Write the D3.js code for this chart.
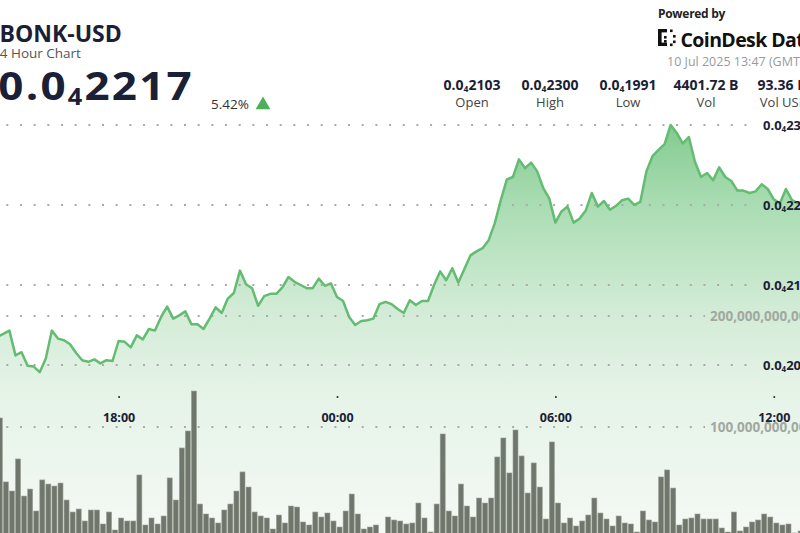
<!DOCTYPE html>
<html><head><meta charset="utf-8">
<script src="https://cdn.jsdelivr.net/npm/d3@7"></script>
<style>
body{margin:0;background:#fff;}
svg{display:block;font-family:"Open Sans",sans-serif;}
</style></head><body>
<svg id="c" width="800" height="533"></svg>
<script>
// ---------- data ----------
const symbol = "BONK-USD";
const subtitle = "24 Hour Chart";
const lastPrice = 0.00002217;
const changePct = "5.42%";
const statLabels = ["Open", "High", "Low", "Vol", "Vol USD"];
const statValues = [0.00002103, 0.00002300, 0.00001991, "4401.72 B", "93.36 M"];
const timestampText = "10 Jul 2025 13:47 (GMT)";
const poweredBy = "Powered by";
const brandName = "CoinDesk Data";

// 10-minute points, first one at 14:40 UTC on 9 Jul 2025
const startTimeUTC = Date.UTC(2025, 6, 9, 14, 40);
const stepMinutes = 10;
// close price in units of 1e-8 USD
const pricesE8 = [
2035,2039,2043,2012,2016,1999,1998,1991,2008,2043,2033,2031,2026,2015,2006,2004,2007,2002,2006,2005,
2030,2029,2022,2037,2032,2045,2043,2060,2073,2058,2062,2067,2051,2051,2045,2058,2072,2065,2083,2090,
2118,2101,2096,2074,2086,2089,2089,2097,2110,2104,2100,2096,2096,2108,2099,2102,2085,2080,2060,2050,
2055,2056,2058,2076,2079,2076,2070,2065,2081,2075,2080,2080,2100,2117,2106,2121,2103,2120,2137,2142,
2146,2156,2177,2206,2232,2235,2257,2246,2253,2242,2221,2208,2178,2192,2198,2178,2183,2193,2215,2198,
2205,2194,2199,2206,2208,2200,2204,2242,2261,2269,2276,2300,2290,2277,2285,2254,2235,2240,2231,2247,
2235,2230,2218,2218,2215,2217,2226,2220,2207,2202,2220,2206,2202,2199];
// volume in billions of BONK
const volumesB = [
60,108.1,50.5,42.3,71.2,37.8,44.1,24.3,52.3,48.6,46.8,49.5,34.2,23.4,26.1,15.3,25.2,25.2,12.6,23.4,
7.2,18.0,15.3,15.3,56.8,11.7,18.0,12.6,19.8,54.1,34.2,81.1,96.4,132.4,30.6,21.6,18.0,13.5,25.2,30.6,
42.3,59.5,45.9,23.4,19.8,18.0,8.1,20.7,13.5,28.8,27.9,14.4,11.7,23.4,18.9,22.5,15.3,9.9,24.3,39.6,
21.6,8.1,9.9,11.7,1.8,18.9,16.2,15.3,12.6,13.5,31.5,18.0,5.4,30.6,93.7,24.3,19.8,48.6,28.8,18.9,
36.0,31.5,36.0,73.0,90.1,58.6,97.3,73.9,40.5,67.6,45.9,17.1,86.5,31.5,13.5,18.0,10.8,15.3,20.7,36.0,
22.5,17.1,10.8,19.8,13.5,12.6,5.4,24.3,16.2,14.4,55.0,61.3,45.0,11.7,17.1,18.0,21.6,17.1,17.1,17.1,
9.0,5.4,23.4,6.3,9.9,14.4,16.2,21.6,18.9,13.5,11.7,12.6,4.5,6.3];

const priceTicks = [0.000020, 0.000021, 0.000022, 0.000023];
const volumeTicks = [100e9, 200e9];
const timeTicks = [Date.UTC(2025,6,9,18), Date.UTC(2025,6,10,0), Date.UTC(2025,6,10,6), Date.UTC(2025,6,10,12)];

// ---------- build ----------
const points = pricesE8.map((p, i) => ({
  t: new Date(startTimeUTC + i * stepMinutes * 60000),
  p: p * 1e-8,
  v: volumesB[i] * 1e9
}));

const svg = d3.select("#c");
const x = d3.scaleUtc()
  .domain([new Date(Date.UTC(2025,6,9,18)), new Date(Date.UTC(2025,6,10,12))])
  .range([118.6, 773.8]);
const yP = d3.scaleLinear().domain([0.000020, 0.000023]).range([365, 125]);
const yV = d3.scaleLinear().domain([0, 200e9]).range([538, 316]);

const dark = "#1a2035";

function subParts(p) {
  const dec = p.toFixed(8).split(".")[1];
  let z = 0; while (dec[z] === "0") z++;
  return { lead: "0.0", n: String(z), digits: dec.slice(z) };
}
function writeSub(sel, p, prefix, subSize, shift) {
  const s = subParts(p);
  sel.text(null);
  sel.append("tspan").text(prefix + s.lead);
  sel.append("tspan").attr("font-size", subSize).attr("dy", shift).text(s.n);
  sel.append("tspan").attr("dy", -shift).text(s.digits);
}

// gradient
const defs = svg.append("defs");
const grad = defs.append("linearGradient").attr("id", "ag")
  .attr("gradientUnits", "userSpaceOnUse")
  .attr("x1", 0).attr("y1", 120).attr("x2", 0).attr("y2", 533);
[[0, "#80ca8e"], [0.2, "#a9dcb2"], [0.45, "#d1ebd5"], [0.65, "#e5f3e7"], [1, "#f4f9f4"]]
  .forEach(([o, c]) => grad.append("stop").attr("offset", o).attr("stop-color", c));

// area
svg.append("path").datum(points)
  .attr("fill", "url(#ag)")
  .attr("d", d3.area().x(d => x(d.t)).y0(533).y1(d => yP(d.p)));

// gridlines (dotted)
const grid = svg.append("g").attr("stroke", "#a9aba9").attr("stroke-width", 2)
  .attr("stroke-dasharray", "2 11.67");
grid.selectAll("line.p").data(priceTicks).join("line")
  .attr("x1", 6.3).attr("x2", 752).attr("y1", d => yP(d)).attr("y2", d => yP(d));
grid.selectAll("line.v").data(volumeTicks).join("line")
  .attr("x1", 6.3).attr("x2", 705).attr("y1", d => yV(d)).attr("y2", d => yV(d));

// volume bars
svg.append("g").selectAll("rect").data(points).join("rect")
  .attr("x", d => x(d.t) - 6)
  .attr("width", 5)
  .attr("y", d => yV(d.v))
  .attr("height", d => yV(0) - yV(d.v))
  .attr("fill", "#6f766b")
  .attr("stroke", "#9ba096").attr("stroke-width", 0.6);

// price line
svg.append("path").datum(points)
  .attr("fill", "none").attr("stroke", "#64bb72").attr("stroke-width", 2.5)
  .attr("stroke-linejoin", "round")
  .attr("d", d3.line().x(d => x(d.t)).y(d => yP(d.p)));

// volume axis labels
const vAxis = svg.append("g").attr("transform", "translate(710,0)")
  .call(d3.axisRight(yV).tickValues(volumeTicks).tickSize(0).tickPadding(0).tickFormat(d3.format(",")));
vAxis.select(".domain").remove();
vAxis.selectAll("text").attr("font-family", "Open Sans").attr("font-size", 13.5)
  .attr("font-weight", 700).attr("fill", "#a1a8a0");

// time axis
const tAxis = svg.append("g").attr("transform", "translate(0,396)")
  .call(d3.axisBottom(x).tickValues(timeTicks.map(d => new Date(d))).tickSize(2).tickPadding(15.5)
    .tickFormat(d3.utcFormat("%H:%M")));
tAxis.select(".domain").remove();
tAxis.selectAll("line").attr("stroke", "#333").attr("stroke-width", 1.6);
tAxis.selectAll("text").attr("font-family", "Open Sans").attr("font-size", 12.5)
  .attr("font-weight", 700).attr("fill", dark);

// price axis labels
const pAxis = svg.append("g").attr("transform", "translate(763,0)")
  .call(d3.axisRight(yP).tickValues(priceTicks).tickSize(0).tickPadding(0).tickFormat(() => ""));
pAxis.select(".domain").remove();
pAxis.selectAll("text").attr("font-family", "Open Sans").attr("font-size", 13)
  .attr("font-weight", 700).attr("fill", dark)
  .each(function(d) { writeSub(d3.select(this), d, "", 8, 2.5); });

// ---------- header ----------
svg.append("text").attr("x", -0.5).attr("y", 41.5).attr("font-size", 23).attr("font-weight", 700)
  .attr("fill", dark).text(symbol);
svg.append("text").attr("x", -8).attr("y", 58).attr("font-size", 13.5)
  .attr("fill", "#555").text(subtitle);
const bigPrice = svg.append("text").attr("transform", "translate(-29,100) scale(1.1,1)")
  .attr("x", 0).attr("y", 0).attr("font-size", 40)
  .attr("font-weight", 700).attr("fill", dark).attr("letter-spacing", 2);
writeSub(bigPrice, lastPrice, "$", 23, 5);
svg.append("text").attr("x", 211).attr("y", 109).attr("font-size", 13.5)
  .attr("fill", "#333").text(changePct);
svg.append("path").attr("transform", "translate(263,105)")
  .attr("d", d3.symbol(d3.symbolTriangle, 95)()).attr("fill", "#4caf5a");

// powered by
svg.append("text").attr("x", 658).attr("y", 17.5).attr("font-size", 12).attr("font-weight", 700)
  .attr("fill", "#222").attr("letter-spacing", -0.3).text(poweredBy);
const logo = svg.append("g").attr("fill", "#111");
logo.append("rect").attr("x", 658).attr("y", 29).attr("width", 3.6).attr("height", 17);
logo.append("rect").attr("x", 658).attr("y", 29).attr("width", 9).attr("height", 3.4);
logo.append("rect").attr("x", 658).attr("y", 42.6).attr("width", 9).attr("height", 3.4);
[[664, 36], [664, 40], [670, 29.5], [673, 35], [673, 40.5], [670, 43.5]].forEach(([a, b]) =>
  logo.append("rect").attr("x", a).attr("y", b).attr("width", 2.6).attr("height", 2.6));
svg.append("text").attr("x", 680.5).attr("y", 46.5).attr("font-size", 19.5).attr("font-weight", 700)
  .attr("fill", "#111").attr("letter-spacing", -0.6).text(brandName);
svg.append("text").attr("x", 667).attr("y", 66).attr("font-size", 12.5)
  .attr("fill", "#9a9a9a").text(timestampText);

// stats
const sx = d3.scalePoint().domain(statLabels).range([472, 784]);
statLabels.forEach((lab, i) => {
  const v = statValues[i];
  const t = svg.append("text").attr("x", sx(lab)).attr("y", 89.5).attr("text-anchor", "middle")
    .attr("font-size", 14).attr("font-weight", 700).attr("fill", dark);
  if (typeof v === "number") writeSub(t, v, "", 8.5, 2.5); else t.text(v);
  svg.append("text").attr("x", sx(lab)).attr("y", 107).attr("text-anchor", "middle")
    .attr("font-size", 13).attr("fill", "#444").text(lab);
});
</script>
</body></html>
